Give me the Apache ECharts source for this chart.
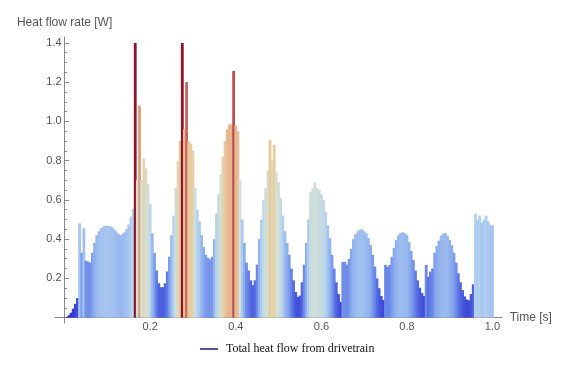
<!DOCTYPE html>
<html>
<head>
<meta charset="utf-8">
<script src="https://cdn.jsdelivr.net/npm/echarts@6/dist/echarts.min.js"></script>
<style>
html,body{margin:0;padding:0;background:#fff;}
#chart{width:570px;height:365px;}
</style>
</head>
<body>
<div id="chart"></div>
<script>
// Sampling grid of the signal (s)
const timeStep = 0.005;
// Heat flow rate [W] read at every 0.005 s from 0 to 1.0
const heatFlow = [
  0, 0.003, 0.012, 0.025, 0.045, 0.07, 0.1, 0.48, 0.33, 0.456,
  0.29, 0.285, 0.28, 0.33, 0.38, 0.42, 0.44, 0.455, 0.463, 0.467,
  0.468, 0.466, 0.463, 0.452, 0.44, 0.428, 0.42, 0.425, 0.435, 0.452,
  0.475, 0.515, 0.555, 1.40, 0.7, 1.08, 0.7, 0.81, 0.76, 0.68,
  0.58, 0.43, 0.33, 0.24, 0.175, 0.155, 0.155, 0.175, 0.235, 0.31,
  0.42, 0.52, 0.66, 0.8, 0.9, 1.40, 0.96, 1.20, 0.9, 0.887,
  0.85, 0.66, 0.55, 0.49, 0.42, 0.36, 0.32, 0.305, 0.297, 0.31,
  0.4, 0.53, 0.63, 0.73, 0.82, 0.9, 0.96, 0.985, 0.985, 1.257,
  0.98, 0.95, 0.7, 0.5, 0.38, 0.28, 0.24, 0.19, 0.165, 0.19,
  0.27, 0.4, 0.5, 0.6, 0.66, 0.75, 0.905, 0.8, 0.88, 0.74,
  0.69, 0.61, 0.52, 0.44, 0.38, 0.32, 0.25, 0.19, 0.13, 0.105,
  0.112, 0.18, 0.27, 0.38, 0.5, 0.64, 0.66, 0.69, 0.66, 0.652,
  0.63, 0.6, 0.54, 0.47, 0.405, 0.32, 0.25, 0.18, 0.12, 0.08,
  0.284, 0.284, 0.27, 0.3, 0.35, 0.40, 0.425, 0.44, 0.448, 0.45,
  0.44, 0.43, 0.405, 0.37, 0.32, 0.26, 0.2, 0.15, 0.11, 0.09,
  0.268, 0.259, 0.268, 0.31, 0.355, 0.395, 0.42, 0.43, 0.435, 0.43,
  0.42, 0.385, 0.34, 0.293, 0.24, 0.19, 0.152, 0.125, 0.11, 0.268,
  0.208, 0.234, 0.25, 0.33, 0.365, 0.392, 0.418, 0.428, 0.43, 0.418,
  0.395, 0.368, 0.33, 0.28, 0.226, 0.18, 0.14, 0.108, 0.092, 0.088,
  0.12, 0.17, 0.53, 0.5, 0.52, 0.484, 0.5, 0.52, 0.49, 0.47,
  0.471
];
const seriesName = 'Total heat flow from drivetrain';
const xMajorTicks = [0.2, 0.4, 0.6, 0.8, 1.0];
const xMinorTicks = [0.05, 0.1, 0.15, 0.25, 0.3, 0.35, 0.45, 0.5, 0.55, 0.65, 0.7, 0.75, 0.85, 0.9, 0.95];
const yMajorTicks = [0.2, 0.4, 0.6, 0.8, 1.0, 1.2, 1.4];
const yMinorTicks = [0.05, 0.1, 0.15, 0.25, 0.3, 0.35, 0.45, 0.5, 0.55, 0.65, 0.7, 0.75, 0.85, 0.9, 0.95, 1.05, 1.1, 1.15, 1.25, 1.3, 1.35];
const colorScale = ['#2c2ccc', '#5066e2', '#86a8ee', '#b4d2f0', '#d4e2d6', '#e8cda0', '#e4a482', '#c25a55', '#8a1228'];

const stripData = heatFlow.map((v, i) => [+(i * timeStep).toFixed(4), v]);

const axisColor = '#888';
const labelStyle = { color: '#555', fontSize: 11, fontFamily: 'Liberation Sans, Arial, sans-serif' };
const xRange = { min: -0.0225, max: 1.0215 };
const yRange = { min: -0.028, max: 1.43 };
// axes sit at the zero of the other axis (plot range padded past the origin)
const xAxisShift = -5.5;
const yAxisShift = -9.6;

const chart = echarts.init(document.getElementById('chart'), null, { renderer: 'canvas' });
chart.setOption({
  animation: false,
  backgroundColor: '#fff',
  grid: { left: 55, right: 68.3, top: 37, bottom: 41.9, outerBoundsMode: 'none', containLabel: false },
  legend: {
    data: [{ name: seriesName, icon: 'rect', itemStyle: { color: '#5252a3' } }],
    left: 200, top: 343, padding: 0,
    itemWidth: 18, itemHeight: 2,
    selectedMode: false,
    textStyle: { fontFamily: 'Liberation Serif, Times New Roman, serif', fontSize: 12, color: '#111', padding: [0, 0, 0, 3] }
  },
  visualMap: {
    show: false, type: 'continuous', seriesIndex: 0, dimension: 1,
    min: 0, max: 1.41, inRange: { color: colorScale }
  },
  xAxis: [
    {
      type: 'value', min: xRange.min, max: xRange.max, position: 'bottom', offset: xAxisShift,
      name: 'Time [s]', nameLocation: 'end', nameGap: 8,
      nameTextStyle: { color: '#555', fontSize: 12, fontFamily: 'Liberation Sans, Arial, sans-serif' },
      axisLine: { onZero: false, lineStyle: { color: axisColor, width: 1 } },
      axisTick: { show: true, inside: true, length: 5, customValues: xMajorTicks, lineStyle: { color: axisColor } },
      axisLabel: Object.assign({ customValues: xMajorTicks, margin: 4, formatter: v => v.toFixed(1) }, labelStyle),
      splitLine: { show: false }
    },
    {
      type: 'value', min: xRange.min, max: xRange.max, position: 'bottom', offset: xAxisShift,
      axisLine: { show: false, onZero: false },
      axisTick: { show: true, inside: true, length: 3, customValues: xMinorTicks, lineStyle: { color: axisColor } },
      axisLabel: { show: false },
      splitLine: { show: false }
    }
  ],
  yAxis: [
    {
      type: 'value', min: yRange.min, max: yRange.max, position: 'left', offset: yAxisShift,
      name: 'Heat flow rate [W]', nameLocation: 'end', nameGap: 8,
      nameTextStyle: { color: '#555', fontSize: 12, fontFamily: 'Liberation Sans, Arial, sans-serif' },
      axisLine: { show: true, onZero: false, lineStyle: { color: axisColor, width: 1 } },
      axisTick: { show: true, inside: true, length: 4.5, customValues: yMajorTicks, lineStyle: { color: axisColor } },
      axisLabel: Object.assign({ customValues: yMajorTicks, margin: 3, formatter: v => v.toFixed(1) }, labelStyle),
      splitLine: { show: false }
    },
    {
      type: 'value', min: yRange.min, max: yRange.max, position: 'left', offset: yAxisShift,
      axisLine: { show: false, onZero: false },
      axisTick: { show: true, inside: true, length: 2.5, customValues: yMinorTicks, lineStyle: { color: axisColor } },
      axisLabel: { show: false },
      splitLine: { show: false }
    }
  ],
  series: [
    {
      name: seriesName, type: 'custom', xAxisIndex: 0, yAxisIndex: 0,
      data: stripData,
      encode: { x: 0, y: 1 },
      silent: true,
      renderItem: function (params, api) {
        const t = api.value(0), v = api.value(1);
        const top = api.coord([t - timeStep / 2, v]);
        const base = api.coord([t + timeStep / 2, 0]);
        return {
          type: 'rect',
          shape: { x: top[0] - 0.35, y: top[1], width: base[0] - top[0] + 0.7, height: base[1] - top[1] },
          style: { fill: api.visual('color') }
        };
      }
    }
  ]
});
</script>
</body>
</html>
